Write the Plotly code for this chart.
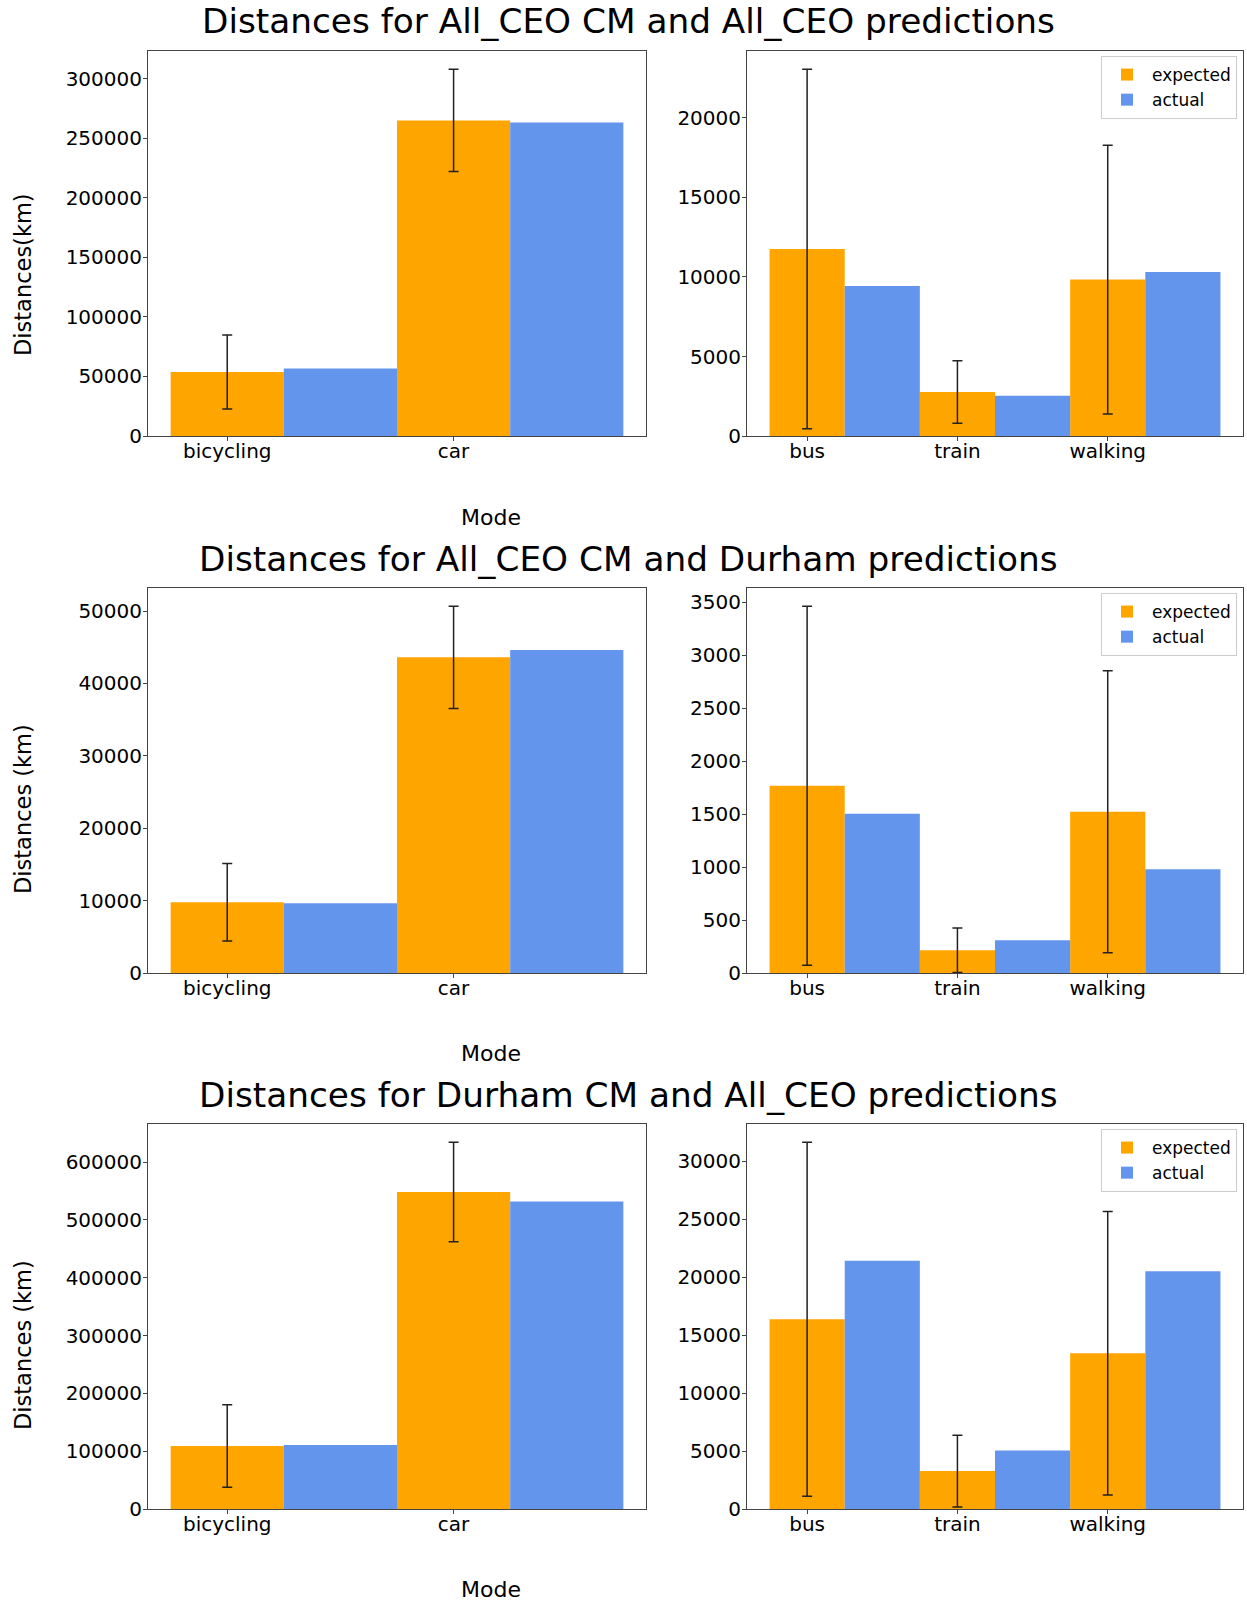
import plotly.graph_objects as go

# ---------------- data ----------------
modes_left = ["bicycling", "car"]
modes_right = ["bus", "train", "walking"]

r1_left_expected = [53700, 265100]
r1_left_actual = [56800, 263400]
r1_left_err = [31100, 42900]
r1_right_expected = [11760, 2770, 9840]
r1_right_actual = [9430, 2530, 10310]
r1_right_err = [11300, 1970, 8450]

r2_left_expected = [9770, 43600]
r2_left_actual = [9630, 44610]
r2_left_err = [5360, 7050]
r2_right_expected = [1767, 215, 1522]
r2_right_actual = [1504, 309, 980]
r2_right_err = [1694, 210, 1330]

r3_left_expected = [109000, 548200]
r3_left_actual = [110850, 531750]
r3_left_err = [71200, 86000]
r3_right_expected = [16360, 3270, 13435]
r3_right_actual = [21400, 5035, 20510]
r3_right_err = [15260, 3090, 12230]

titles = ["Distances for All_CEO CM and All_CEO predictions",
          "Distances for All_CEO CM and Durham predictions",
          "Distances for Durham CM and All_CEO predictions"]
ylabels = ["Distances(km)", "Distances (km)", "Distances (km)"]
xlabel = "Mode"
series_names = ["expected", "actual"]

panels = [
    (modes_left, r1_left_expected, r1_left_actual, r1_left_err),
    (modes_right, r1_right_expected, r1_right_actual, r1_right_err),
    (modes_left, r2_left_expected, r2_left_actual, r2_left_err),
    (modes_right, r2_right_expected, r2_right_actual, r2_right_err),
    (modes_left, r3_left_expected, r3_left_actual, r3_left_err),
    (modes_right, r3_right_expected, r3_right_actual, r3_right_err),
]
dticks = [50000, 5000, 10000, 500, 100000, 5000]

# ---------------- layout geometry (px) ----------------
W, H = 1247, 1601
col_x = [(148, 646), (747, 1243)]
row_y = [(51, 436), (588, 973), (1124, 1509)]
title_y = [21, 559, 1095]
mode_y = [517, 1053, 1589]
ylab_y = [275, 809, 1345]

ORANGE = "#FFA500"
BLUE = "#6495ED"
FONT = "DejaVu Sans"
SPINE = "#444444"

fig = go.Figure()
layout = dict(
    width=W, height=H, autosize=False,
    margin=dict(l=0, r=0, t=0, b=0, pad=0),
    paper_bgcolor="white", plot_bgcolor="white",
    font=dict(family=FONT, color="black", size=20),
    barmode="overlay",
    showlegend=True,
)

annotations = []
for i, (cats, exp, act, err) in enumerate(panels):
    r, c = divmod(i, 2)
    n = i + 1
    xa = "x" if n == 1 else f"x{n}"
    ya = "y" if n == 1 else f"y{n}"
    lk = "legend" if r == 0 else f"legend{r + 1}"
    show = c == 1
    fig.add_trace(go.Bar(
        x=cats, y=exp, name=series_names[0], marker_color=ORANGE,
        marker_line_width=0, width=0.5, offset=-0.25,
        error_y=dict(type="data", array=err, color="#222222", thickness=1.5, width=5),
        xaxis=xa, yaxis=ya, showlegend=show, legend=lk,
    ))
    fig.add_trace(go.Bar(
        x=cats, y=act, name=series_names[1], marker_color=BLUE,
        marker_line_width=0, width=0.5, offset=0.25,
        xaxis=xa, yaxis=ya, showlegend=show, legend=lk,
    ))
    x0, x1 = col_x[c]
    y0, y1 = row_y[r]
    ymax = max(e + d for e, d in zip(exp, err)) * 1.05
    ncat = len(cats)
    xkey = "xaxis" if n == 1 else f"xaxis{n}"
    ykey = "yaxis" if n == 1 else f"yaxis{n}"
    layout[xkey] = dict(
        domain=[x0 / W, x1 / W], anchor=ya, automargin=False,
        range=[-0.25 - 0.05 * ncat, ncat - 0.25 + 0.05 * ncat],
        showline=True, mirror=True, linecolor=SPINE, linewidth=1,
        ticks="outside", ticklen=4, tickcolor=SPINE, ticklabelstandoff=-7,
        showgrid=False, zeroline=False,
        tickfont=dict(size=20, family=FONT, color="black"),
        fixedrange=True,
    )
    layout[ykey] = dict(
        domain=[1 - y1 / H, 1 - y0 / H], anchor=xa, automargin=False,
        range=[0, ymax], dtick=dticks[i], tick0=0,
        showline=True, mirror=True, linecolor=SPINE, linewidth=1,
        ticks="outside", ticklen=4, tickcolor=SPINE, ticklabelstandoff=-3,
        showgrid=False, zeroline=False, tickformat="d",
        tickfont=dict(size=20, family=FONT, color="black"),
        fixedrange=True,
    )
    if c == 1:
        layout[lk] = dict(
            x=1237 / W, xanchor="right",
            y=1 - (y0 + 5) / H, yanchor="top",
            bgcolor="rgba(255,255,255,0.8)", bordercolor="#cccccc", borderwidth=1,
            font=dict(size=17, family=FONT, color="black"),
            tracegroupgap=0, itemwidth=40,
        )

for r in range(3):
    annotations.append(dict(
        text=titles[r], x=628 / W, y=1 - title_y[r] / H, xref="paper", yref="paper",
        xanchor="center", yanchor="middle", showarrow=False,
        font=dict(size=34.3, family=FONT, color="black"),
    ))
    annotations.append(dict(
        text=xlabel, x=491 / W, y=1 - mode_y[r] / H, xref="paper", yref="paper",
        xanchor="center", yanchor="middle", showarrow=False,
        font=dict(size=22, family=FONT, color="black"),
    ))
    annotations.append(dict(
        text=ylabels[r], x=23 / W, y=1 - ylab_y[r] / H, xref="paper", yref="paper",
        xanchor="center", yanchor="middle", showarrow=False, textangle=-90,
        font=dict(size=22.5, family=FONT, color="black"),
    ))

layout["annotations"] = annotations
fig.update_layout(**layout)
fig.write_html(
    "out.html",
    config={"displayModeBar": False, "responsive": False},
    post_script="document.body.style.margin='0';document.body.style.padding='0';"
                "document.documentElement.style.overflow='hidden';",
)
